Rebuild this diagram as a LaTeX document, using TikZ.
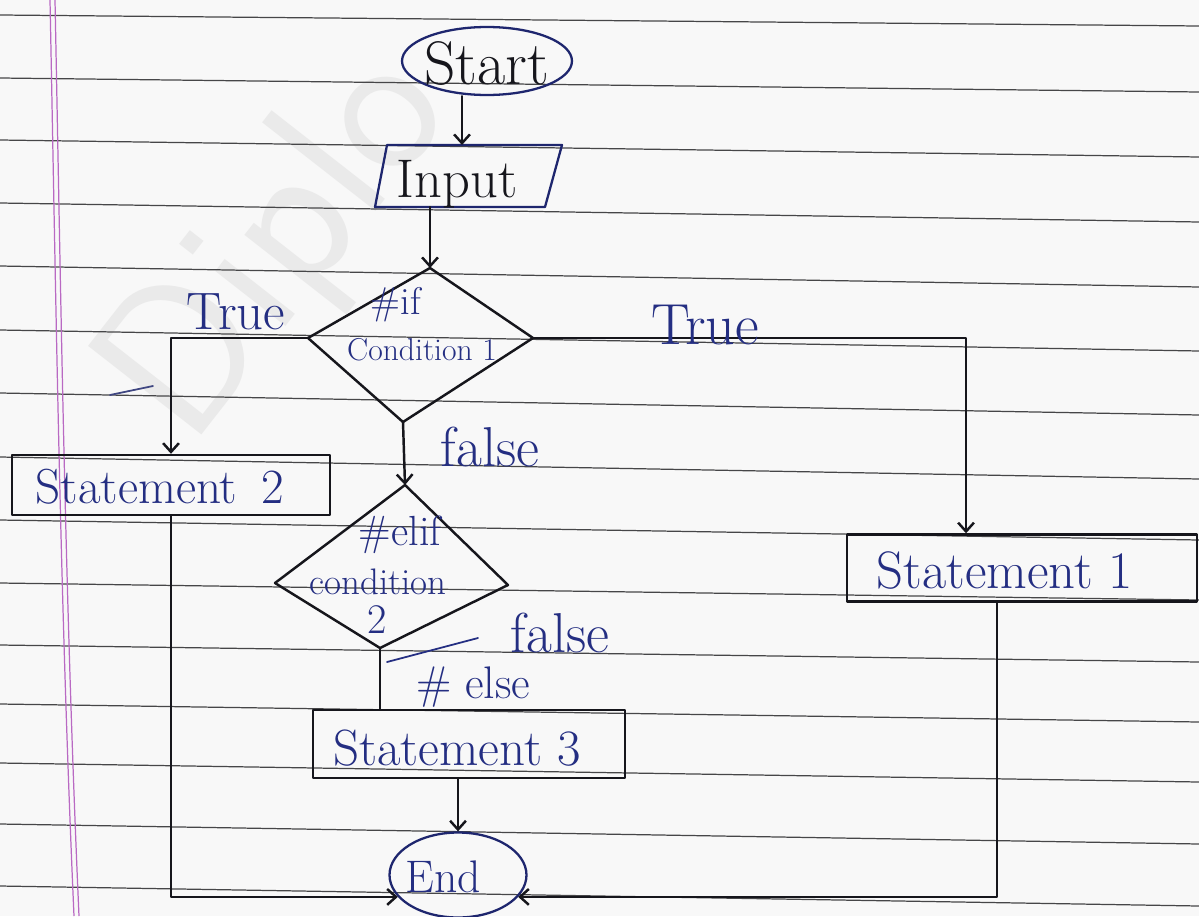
\documentclass[tikz,border=0pt]{standalone}
\usetikzlibrary{shapes.geometric,arrows.meta,calc}
\definecolor{paper}{RGB}{248,248,248}
\definecolor{rule}{RGB}{70,70,72}
\definecolor{margin}{RGB}{185,105,195}
\definecolor{ink}{RGB}{36,46,130}
\definecolor{navy}{RGB}{30,38,110}
\definecolor{pen}{RGB}{22,22,28}
\definecolor{mark}{RGB}{234,234,234}
\newcommand\pensize[1]{\fontsize{#1}{#1}\selectfont}

\begin{document}
\begin{tikzpicture}[x=0.02cm,y=-0.02cm,
  ruling/.style={draw=rule, line width=0.7pt},
  marginline/.style={draw=margin, line width=0.7pt},
  stroke/.style={draw=pen, line width=1.4pt, line join=round, line cap=round},
  flow/.style={stroke, -{Straight Barb[length=5pt,width=9pt]}},
  box/.style={rectangle, stroke, inner sep=0pt},
  oval/.style={ellipse, draw=navy, line width=1.3pt, inner sep=0pt},
  txt/.style={inner sep=0pt, text=ink},
  blacktxt/.style={inner sep=0pt, text=pen},
  scribble/.style={line width=1pt, line cap=round},
]
% sheet of ruled paper
\fill[paper] (0,0) rectangle (1199,916);
\useasboundingbox (0,0) rectangle (1199,916);

% faint publisher mark
\begin{scope}
  \clip (0,0) rectangle (1199,916);
  \node[rotate=52, anchor=base west, text=mark, inner sep=0pt,
        font=\sffamily\pensize{118}] (wm) at (190,450) {Diplo};
\end{scope}

% ruled lines
\foreach \l/\r in {15/26, 78/92, 140/157, 203/222, 266/287, 330/351,
                   393/415, 457/479, 520/540, 583/600, 645/662, 704/722,
                   763/782, 824/844, 886/906}
  \draw[ruling] (0,\l) -- (1199,\r);

% margin
\draw[marginline] (50,0) .. controls (56,300) and (60,600) .. (74,916);
\draw[marginline] (55,0) .. controls (61,300) and (65,600) .. (79,916);

% terminals and boxes
\node[oval, minimum width=3.4cm, minimum height=1.36cm] (start) at (487,61) {};
\node[blacktxt, font=\pensize{35}] (starttxt) at (487,63) {Start};

% input parallelogram
\coordinate (inTL) at (387,145);
\coordinate (inTR) at (562,145);
\coordinate (inBR) at (545,207);
\coordinate (inBL) at (375,207);
\draw[draw=navy, line width=1.3pt, line join=round] (inTL) -- (inTR) -- (inBR) -- (inBL) -- cycle;
\node[blacktxt, font=\pensize{31}] (input) at (457,184) {Input};

\node[box, minimum width=6.36cm, minimum height=1.2cm] (s2) at (171,485) {};
\node[txt, font=\pensize{28}] (s2txt) at (160,487) {Statement\enspace 2};

\node[box, minimum width=7.0cm, minimum height=1.34cm] (s1) at (1022,568) {};
\node[txt, font=\pensize{30}] (s1txt) at (1005,570) {Statement 1};

\node[box, minimum width=6.24cm, minimum height=1.36cm] (s3) at (469,744) {};
\node[txt, font=\pensize{29}] (s3txt) at (457,748) {Statement 3};

\node[oval, minimum width=2.74cm, minimum height=1.7cm] (endn) at (458,875) {};
\node[txt, font=\pensize{26}] (endtxt) at (443,877) {End};

% decision: if
\coordinate (d1t) at (430,268);
\coordinate (d1r) at (533,338);
\coordinate (d1b) at (403,422);
\coordinate (d1l) at (308,338);
\draw[stroke] (d1t) -- (d1r) -- (d1b) -- (d1l) -- cycle;
\node[txt, font=\pensize{22}] (iftxt) at (396,305) {\#if};
\node[txt, font=\pensize{18}] (c1txt) at (422,350) {Condition 1};

% decision: elif
\coordinate (d2t) at (405,485);
\coordinate (d2r) at (508,585);
\coordinate (d2b) at (380,648);
\coordinate (d2l) at (275,583);
\draw[stroke] (d2t) -- (d2r) -- (d2b) -- (d2l) -- cycle;
\node[txt, font=\pensize{24}] (eliftxt) at (400,535) {\#elif};
\node[txt, font=\pensize{21}] (c2txt) at (378,582) {condition};
\node[txt, font=\pensize{24}] (c2num) at (377,620) {2};

% connectors
\coordinate (s1in) at ([xshift=-1.12cm]s1.north);
\coordinate (s1out) at ([xshift=-0.5cm]s1.south);
\draw[flow] ([xshift=-0.5cm]start.south) -- ([xshift=-0.5cm]start.south |- inTL);
\draw[flow] (inBL -| d1t) -- (d1t);
\draw[flow] (d1l) -| (s2.north);
\draw[flow] (d1r) -| (s1in);
\draw[flow] (d1b) -- (d2t);
\draw[stroke] (d2b) -- (s3.north -| d2b);
\draw[flow] (s3.south -| endn.north) -- (endn.north);
\draw[flow] (s2.south) |- (endn.200);
\draw[flow] (s1out) |- (endn.340);

% branch labels
\node[txt, font=\pensize{30}] (truel) at (236,312) {True};
\node[txt, font=\pensize{33}] (truer) at (705,325) {True};
\node[txt, font=\pensize{32}] (false1) at (490,447) {false};
\node[txt, font=\pensize{32}] (false2) at (560,633) {false};
\node[txt, font=\pensize{26}] (elsetxt) at (473,687) {\# else};

% pen strokes
\draw[scribble, draw=ink!70!gray] (110,395) -- (153,386);
\draw[scribble, draw=ink] (387,662) -- (478,638);
\end{tikzpicture}
\end{document}
